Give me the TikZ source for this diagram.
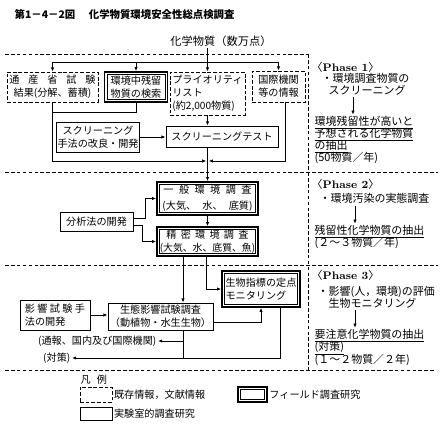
\documentclass[tikz,border=0pt]{standalone}
\usepackage{fontspec}
\newfontfamily\jp{Noto Sans CJK JP}
\usetikzlibrary{arrows.meta, positioning, calc}
\newcommand{\spread}[2]{\makebox[#1][s]{#2}}

\begin{document}
\begin{tikzpicture}[x=0.025cm, y=-0.025cm,
    every node/.style={font=\jp\fontsize{7.2}{9.2}\selectfont, inner sep=1pt},
    sz/.style 2 args={minimum width=#1*0.025cm, minimum height=#2*0.025cm},
    dashbox/.style={draw, line width=0.6pt, dash pattern=on 2.6pt off 1.4pt, align=center},
    labbox/.style={draw, line width=0.6pt, align=center},
    fieldbox/.style={draw, line width=1.1pt, align=center,
      path picture={\draw[line width=0.4pt]
        ([shift={(1.8pt,1.8pt)}]path picture bounding box.south west) rectangle
        ([shift={(-1.8pt,-1.8pt)}]path picture bounding box.north east);}},
    conn/.style={line width=0.6pt},
    arr/.style={conn, -{Latex[length=3pt, width=2.4pt]}},
    sep/.style={line width=0.5pt, dash pattern=on 2.6pt off 1.6pt},
    note/.style={anchor=west, font=\jp\fontsize{7.8}{8.6}\selectfont, align=left}]
  \useasboundingbox (0,0) rectangle (440,426);

  % title
  \node[anchor=west, font=\jp\bfseries\fontsize{7.4}{8}\selectfont] (title) at (13,15)
    {第1－4－2図\hspace{1.3em}化学物質環境安全性総点検調査};
  \node[font=\jp\fontsize{8}{9}\selectfont] (chem) at (221,41) {化学物質（数万点）};

  % phase separators
  \draw[sep] (5,54) -- (308,54);
  \draw[sep] (308,54) -- (308,370);
  \draw[sep] (5,172) -- (438,172);
  \draw[sep] (5,265) -- (438,265);
  \draw[sep] (5,370) -- (435,370);

  % phase 1 boxes
  \node[dashbox, sz={91}{30}] (miti) at (52.5,87) {\spread{2.15cm}{通 産 省 試 験}\\結果(分解、蓄積)};
  \node[fieldbox, sz={63}{30}] (kensaku) at (136,87) {環境中残留\\物質の検索};
  \node[dashbox, sz={75}{43}, align=left] (prio) at (207.5,93.5) {プライオリティ\\リスト\\(約2,000物質)};
  \node[dashbox, sz={53}{31}] (intl) at (278.5,86.5) {国際機関\\等の情報};
  \node[labbox, sz={82}{30}] (kairyo) at (98,137) {スクリーニング\\手法の改良・開発};
  \node[labbox, sz={112}{21}] (sctest) at (222,136.5) {スクリーニングテスト};

  % phase 2 boxes
  \node[fieldbox, sz={101}{33}] (ippan) at (207.5,198.5)
    {\spread{2.2cm}{一 般 環 境 調 査}\\[2pt]\spread{2.25cm}{(大気、 水、 底質)}};
  \node[fieldbox, sz={101}{29}] (seimitsu) at (207.5,241.5)
    {\spread{2.05cm}{精 密 環 境 調 査}\\{\fontsize{7}{9}\selectfont(大気、水、底質、魚)}};
  \node[labbox, sz={73}{19}] (bunseki) at (96.5,221.5) {分析法の開発};

  % phase 3 boxes
  \node[fieldbox, sz={78}{36}, align=left] (seibutsu) at (261,289) {生物指標の定点\\モニタリング};
  \node[labbox, sz={105}{27}] (seitai) at (160.5,316.5) {生態影響試験調査\\（動植物・水生生物）};
  \node[labbox, sz={70}{30}, align=left] (eikyo) at (55,315) {\spread{1.5cm}{影 響 試 験 手}\\法の開発};
  \node[anchor=east] (tsuho) at (158,341) {(通報、国内及び国際機関)};
  \node[anchor=east] (taisaku) at (72,358) {(対策)};

  % connectors, phase 1
  \coordinate (fork) at (207,62);
  \coordinate (join) at (207.5,161);
  \draw[conn] (chem.south -| fork) -- (fork);
  \draw[conn] (miti.north |- fork) -- (intl.north |- fork);
  \foreach \n in {miti, kensaku, prio, intl}
    \draw[arr] (\n.north |- fork) -- (\n.north);
  \draw[conn] (kensaku.south) -- ++(0,10) -| (miti.south);
  \draw[arr] (miti.south) |- ([xshift=-0.8pt]join);
  \draw[arr] ($(intl.south)+(7,0)$) |- ([xshift=0.8pt]join);
  \draw[arr] (prio.south) -- (prio.south |- sctest.north);
  \draw[arr] (kairyo.east) -- (kairyo.east -| sctest.west);
  \draw[arr] (sctest.south -| ippan.north) -- (ippan.north);

  % connectors, phase 2
  \draw[arr] ([yshift=2.5pt]bunseki.east) -- ++(12,0) |- (ippan.west);
  \draw[arr] ([yshift=-2.5pt]bunseki.east) -- ++(9,0) |- (seimitsu.west);
  \draw[arr] (ippan.south) -- (seimitsu.north);

  % connectors, phase 3
  \coordinate (s1) at ($(seimitsu.south)+(-24.5,0)$);
  \coordinate (s2) at ($(seibutsu.south)+(19,0)$);
  \draw[arr] (s1) -- (s1 |- seitai.north);
  \draw[arr] ([xshift=-1pt]seimitsu.south) |- (seibutsu.west);
  \draw[arr] (eikyo.east) -- (eikyo.east -| seitai.west);
  \draw[arr] ([yshift=-4pt]seitai.east) -| (seibutsu.south);
  \draw[arr] (s2) |- (taisaku.east);
  \draw[conn] (s1 |- seitai.south) -- (s1 |- taisaku.east);
  \draw[arr] (s1 |- tsuho.east) -- (tsuho.east);

  % right column
  \node[note] (ph1) at (310,67) {〈{\rmfamily\bfseries Phase 1}〉};
  \node[note] (p1a) at (320,78) {・環境調査物質の};
  \node[note] (p1b) at (327,90) {スクリーニング};
  \node[note] (p1c) at (313,123) {\underline{環境残留性が高いと}};
  \node[note] (p1d) at (313,135) {\underline{予想される化学物質}};
  \node[note] (p1e) at (313,147) {\underline{の抽出}};
  \node[note] (p1f) at (313,158) {(50物質／年)};
  \coordinate (a1) at (353,97);
  \draw[arr] (a1) -- (a1 |- p1c.north);

  \node[note] (ph2) at (310,184) {〈{\rmfamily\bfseries Phase 2}〉};
  \node[note] (p2a) at (318,198) {・環境汚染の実態調査};
  \node[note] (p2c) at (313,232) {\underline{残留性化学物質の抽出}};
  \node[note] (p2d) at (313,243) {(２～３物質／年)};
  \coordinate (a2) at (355,206);
  \draw[arr] (a2) -- (a2 |- p2c.north);

  \node[note] (ph3) at (310,275) {〈{\rmfamily\bfseries Phase 3}〉};
  \node[note] (p3a) at (316,292) {・影響(人，環境)の評価};
  \node[note] (p3b) at (327,303) {生物モニタリング};
  \node[note] (p3c) at (313,336) {\underline{要注意化学物質の抽出}};
  \node[note] (p3d) at (313,348) {\underline{(対策)}};
  \node[note] (p3e) at (313,360) {(１～２物質／２年)};
  \coordinate (a3) at (355,310);
  \draw[arr] (a3) -- (a3 |- p3c.north);

  % legend
  \node[anchor=west] (legend) at (79,380) {凡\hspace{0.6em}例};
  \node[dashbox, sz={32}{15}] (lgdash) at (96,394.5) {};
  \node[anchor=west] (lgdashtxt) at (lgdash.east) {既存情報，文献情報};
  \node[fieldbox, sz={29}{15}] (lgfield) at (252.5,394.5) {};
  \node[anchor=west] (lgfieldtxt) at (lgfield.east) {フィールド調査研究};
  \node[labbox, sz={32}{13}] (lglab) at (96,413.5) {};
  \node[anchor=west] (lglabtxt) at (lglab.east) {実験室的調査研究};
\end{tikzpicture}
\end{document}
